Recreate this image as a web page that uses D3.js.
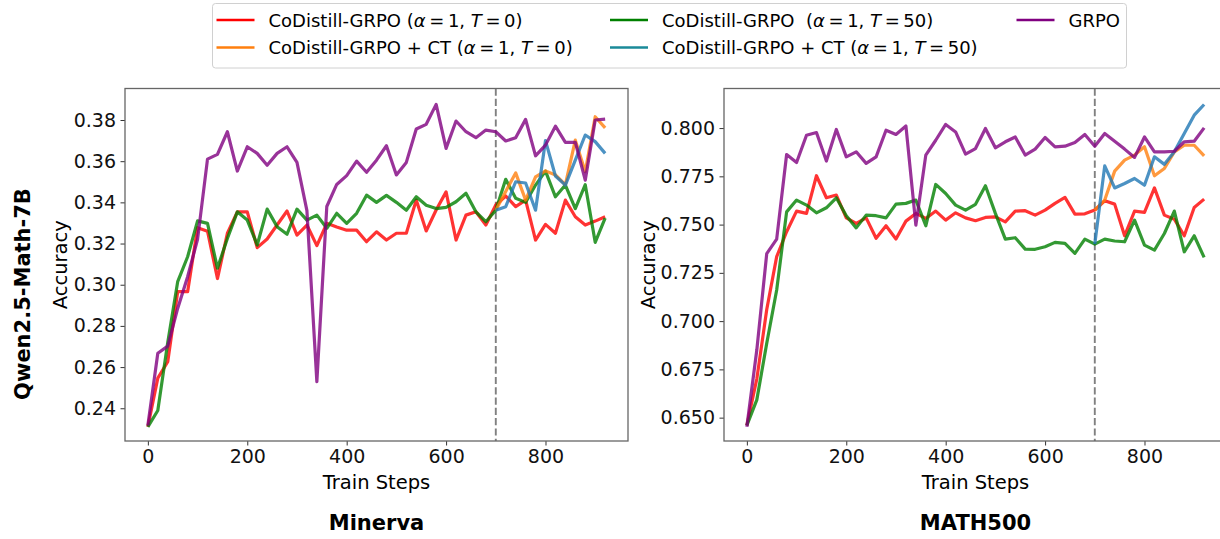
<!DOCTYPE html>
<html>
<head>
<meta charset="utf-8">
<script src="https://cdn.jsdelivr.net/npm/d3@7"></script>
<style>
  body { margin: 0; background: #fff; }
  svg text { font-family: "DejaVu Sans", sans-serif; fill: #000; }
</style>
</head>
<body>
<div id="viz"></div>
<script>
// train steps (every 20) and the continued-training steps
var trainSteps = d3.range(0, 940, 20);
var ctSteps = d3.range(700, 940, 20);

// Minerva
var minervaT0 = [0.231, 0.2546, 0.2626, 0.2966, 0.2966, 0.3277, 0.326, 0.303, 0.325, 0.3354, 0.3354, 0.318,
  0.3222, 0.329, 0.3358, 0.3241, 0.329, 0.319, 0.3298, 0.328, 0.3265, 0.3265, 0.3209, 0.3257,
  0.3217, 0.325, 0.325, 0.3411, 0.3261, 0.3363, 0.3451, 0.3217, 0.3338, 0.3354, 0.329, 0.3387,
  0.3431, 0.3379, 0.3411, 0.3217, 0.3293, 0.325, 0.3411, 0.333, 0.329, 0.3309, 0.333];
var minervaT50 = [0.231, 0.2389, 0.272, 0.3015, 0.3136, 0.331, 0.3298, 0.308, 0.3225, 0.3354, 0.3314, 0.3193,
  0.3367, 0.3282, 0.3245, 0.3367, 0.3314, 0.3338, 0.3274, 0.3347, 0.3298, 0.3347, 0.3435, 0.340,
  0.3434, 0.340, 0.3362, 0.3427, 0.3386, 0.337, 0.3376, 0.3403, 0.3444, 0.3354, 0.3306, 0.3362,
  0.3512, 0.342, 0.340, 0.3484, 0.3552, 0.3427, 0.3484, 0.337, 0.3486, 0.3206, 0.3323];
var minervaGrpo = [0.2316, 0.2667, 0.2702, 0.2885, 0.3039, 0.322, 0.361, 0.3633, 0.3743, 0.3552, 0.367, 0.3638,
  0.358, 0.3638, 0.367, 0.3594, 0.336, 0.2529, 0.338, 0.3487, 0.353, 0.360, 0.3546, 0.3605,
  0.3675, 0.3533, 0.3594, 0.3756, 0.3779, 0.3876, 0.3662, 0.3795, 0.3743, 0.3714, 0.3751, 0.3743,
  0.3698, 0.3714, 0.3803, 0.3626, 0.3678, 0.377, 0.3691, 0.3691, 0.3508, 0.380, 0.3804];
var minervaCtT0 = [0.3362, 0.3453, 0.3543, 0.3411, 0.3524, 0.3553, 0.3533, 0.3486, 0.3702, 0.3549, 0.3816, 0.3762];
var minervaCtT50 = [0.3362, 0.3379, 0.35, 0.3494, 0.3362, 0.370, 0.3528, 0.3484, 0.3605, 0.3727, 0.3695, 0.3638];

// MATH500
var mathT0 = [0.646, 0.670, 0.706, 0.7334, 0.7463, 0.757, 0.7558, 0.7753, 0.7639, 0.7653, 0.7535, 0.7506,
  0.7535, 0.7429, 0.7494, 0.7425, 0.7518, 0.7558, 0.7532, 0.757, 0.7523, 0.7561, 0.7535, 0.752,
  0.7537, 0.754, 0.7514, 0.757, 0.7572, 0.7549, 0.7575, 0.761, 0.7641, 0.7554, 0.7556, 0.7575,
  0.7623, 0.7606, 0.7442, 0.757, 0.7563, 0.769, 0.7549, 0.7528, 0.7442, 0.7589, 0.7632];
var mathT50 = [0.646, 0.6592, 0.6885, 0.7161, 0.7566, 0.7627, 0.7601, 0.7561, 0.7587, 0.7639, 0.7546, 0.7483,
  0.7549, 0.7546, 0.7535, 0.7606, 0.761, 0.7627, 0.7494, 0.7708, 0.7661, 0.7601, 0.7575, 0.7605,
  0.7701, 0.7558, 0.7425, 0.7432, 0.7373, 0.7372, 0.7385, 0.7408, 0.7403, 0.7351, 0.7425, 0.7399,
  0.7425, 0.7415, 0.7411, 0.7523, 0.7394, 0.7368, 0.7454, 0.757, 0.7359, 0.7442, 0.733];
var mathGrpo = [0.6453, 0.685, 0.735, 0.7425, 0.7863, 0.7822, 0.7963, 0.7977, 0.7829, 0.7993, 0.7851, 0.7877,
  0.7817, 0.7851, 0.7989, 0.7967, 0.8011, 0.7497, 0.786, 0.7937, 0.8019, 0.798, 0.7865, 0.7894,
  0.7998, 0.7898, 0.7929, 0.7954, 0.786, 0.7891, 0.7951, 0.7903, 0.7906, 0.7925, 0.7967, 0.7906,
  0.7972, 0.7932, 0.7891, 0.7848, 0.7954, 0.7877, 0.7877, 0.788, 0.7929, 0.7932, 0.8001];
var mathCtT0 = [0.7575, 0.7627, 0.7777, 0.7834, 0.786, 0.7903, 0.7753, 0.7791, 0.7877, 0.7911, 0.7911, 0.7856];
var mathCtT50 = [0.7399, 0.7804, 0.769, 0.7713, 0.7739, 0.7704, 0.7851, 0.7812, 0.7877, 0.7972, 0.8067, 0.8122];

var xTicks = [0, 200, 400, 600, 800];
var minervaTicks = [0.24, 0.26, 0.28, 0.30, 0.32, 0.34, 0.36, 0.38];
var mathTicks = [0.650, 0.675, 0.700, 0.725, 0.750, 0.775, 0.800];
var splitStep = 700;

var colors = { t0: "#ff0000", ctT0: "#ff7f0e", t50: "#008000", ctT50: "#1f77b4", grpo: "#800080" };

var svg = d3.select("#viz").append("svg")
    .attr("width", 1220)
    .attr("height", 539);

function panel(opts) {
    var left = opts.left, right = left + 503, top = 88.5, bottom = 441;
    var x = d3.scaleLinear().domain([-46, 966]).range([left, right]);
    var y = d3.scaleLinear().domain(opts.yDomain).range([bottom, top]);
    var g = svg.append("g");

    var clip = "clip" + opts.id;
    g.append("clipPath").attr("id", clip).append("rect")
        .attr("x", left).attr("y", top).attr("width", right - left).attr("height", bottom - top);

    var line = d3.line().x(function(d) { return x(d[0]); }).y(function(d) { return y(d[1]); });
    var plot = g.append("g").attr("clip-path", "url(#" + clip + ")");

    plot.append("line")
        .attr("x1", x(splitStep)).attr("x2", x(splitStep))
        .attr("y1", top).attr("y2", bottom)
        .style("stroke", "#808080").style("stroke-width", 1.9)
        .style("stroke-dasharray", "7.2,3.1");

    opts.series.forEach(function(s) {
        plot.append("path")
            .datum(d3.zip(s.steps, s.values))
            .attr("d", line)
            .style("fill", "none")
            .style("stroke", s.color)
            .style("stroke-opacity", 0.8)
            .style("stroke-width", 3.2)
            .style("stroke-linejoin", "round");
    });

    var xAxis = g.append("g").attr("transform", "translate(0," + bottom + ")")
        .call(d3.axisBottom(x).tickValues(xTicks).tickSize(4.5).tickPadding(4));
    var yAxis = g.append("g").attr("transform", "translate(" + left + ",0)")
        .call(d3.axisLeft(y).tickValues(opts.yTicks).tickFormat(d3.format(opts.fmt)).tickSize(4.5).tickPadding(4.5));
    [xAxis, yAxis].forEach(function(a) {
        a.select(".domain").remove();
        a.selectAll(".tick line").style("stroke", "#333").style("stroke-width", 1);
        a.selectAll(".tick text").style("font-size", "19px").style("fill", "#111");
    });

    g.append("rect")
        .attr("x", left).attr("y", top).attr("width", right - left).attr("height", bottom - top)
        .style("fill", "none").style("stroke", "#666").style("stroke-width", 1.3);

    g.append("text")
        .attr("x", (left + right) / 2).attr("y", 489)
        .attr("text-anchor", "middle")
        .style("font-size", "19.5px")
        .text("Train Steps");
    g.append("text")
        .attr("transform", "translate(" + opts.yLabelX + "," + ((top + bottom) / 2) + ") rotate(-90)")
        .attr("text-anchor", "middle")
        .style("font-size", "19.5px")
        .text("Accuracy");
    g.append("text")
        .attr("x", (left + right) / 2).attr("y", 530)
        .attr("text-anchor", "middle")
        .style("font-size", "21px").style("font-weight", "bold")
        .text(opts.title);
}

panel({
    id: "a", left: 125, title: "Minerva", yLabelX: 67, fmt: ".2f",
    yDomain: [0.2241, 0.3953], yTicks: minervaTicks,
    series: [
        { steps: trainSteps, values: minervaT0, color: colors.t0 },
        { steps: trainSteps, values: minervaT50, color: colors.t50 },
        { steps: ctSteps, values: minervaCtT0, color: colors.ctT0 },
        { steps: ctSteps, values: minervaCtT50, color: colors.ctT50 },
        { steps: trainSteps, values: minervaGrpo, color: colors.grpo }
    ]
});
panel({
    id: "b", left: 724, title: "MATH500", yLabelX: 655, fmt: ".3f",
    yDomain: [0.6379, 0.8205], yTicks: mathTicks,
    series: [
        { steps: trainSteps, values: mathT0, color: colors.t0 },
        { steps: trainSteps, values: mathT50, color: colors.t50 },
        { steps: ctSteps, values: mathCtT0, color: colors.ctT0 },
        { steps: ctSteps, values: mathCtT50, color: colors.ctT50 },
        { steps: trainSteps, values: mathGrpo, color: colors.grpo }
    ]
});

// row label
svg.append("text")
    .attr("transform", "translate(30,294) rotate(-90)")
    .attr("text-anchor", "middle")
    .style("font-size", "21px").style("font-weight", "bold")
    .text("Qwen2.5-Math-7B");

// legend
var legendItems = [
    { name: "CoDistill-GRPO ", T: "0", color: colors.t0, col: 0, row: 0 },
    { name: "CoDistill-GRPO + CT ", T: "0", color: colors.ctT0, col: 0, row: 1 },
    { name: "CoDistill-GRPO \u00a0", T: "50", color: colors.t50, col: 1, row: 0 },
    { name: "CoDistill-GRPO + CT ", T: "50", color: "#1a8a99", col: 1, row: 1 },
    { name: "GRPO", T: null, color: colors.grpo, col: 2, row: 0 }
];
var colX = [216.5, 610, 1016.5];
var rowY = [20, 47.5];

svg.append("rect")
    .attr("x", 212.5).attr("y", 3.5).attr("width", 914).attr("height", 64.5).attr("rx", 3)
    .style("fill", "#fff").style("stroke", "#d0d0d0").style("stroke-width", 1);

var leg = svg.selectAll(".leg").data(legendItems).enter().append("g")
    .attr("transform", function(d) { return "translate(" + colX[d.col] + "," + rowY[d.row] + ")"; });
leg.append("line")
    .attr("x1", 0).attr("x2", 38).attr("y1", 0).attr("y2", 0)
    .style("stroke", function(d) { return d.color; })
    .style("stroke-width", 2.4);
var lt = leg.append("text")
    .attr("x", 52).attr("y", 6.5)
    .style("font-size", "18px");
lt.each(function(d) {
    var t = d3.select(this);
    t.append("tspan").text(d.name);
    if (d.T === null) return;
    t.append("tspan").text("(");
    t.append("tspan").style("font-style", "italic").text("\u03b1");
    t.append("tspan").text("\u2009=\u20091, ");
    t.append("tspan").style("font-style", "italic").text("T");
    t.append("tspan").text("\u2009=\u2009" + d.T + ")");
});
</script>
</body>
</html>
